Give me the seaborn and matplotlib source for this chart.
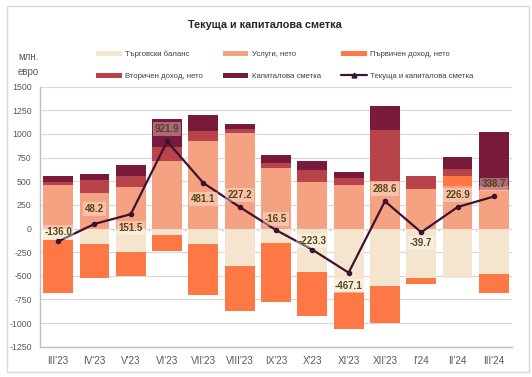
import numpy as np
import pandas as pd
import matplotlib
matplotlib.use("Agg")
import matplotlib.pyplot as plt
from matplotlib.patches import Rectangle, Patch
from matplotlib.lines import Line2D
import seaborn as sns

# ---------------- data ----------------
categories = ["III'23", "IV'23", "V'23", "VI'23", "VII'23", "VIII'23", "IX'23",
              "X'23", "XI'23", "XII'23", "I'24", "II'24", "III'24"]
trade = [-126, -161, -253, -65, -161, -398, -151, -462, -673, -606, -520, -521, -485]
services = [457, 379, 439, 711, 930, 1015, 640, 492, 457, 502, 421, 446, 410]
primary = [-558, -360, -254, -178, -544, -473, -628, -462, -385, -389, -63, 113, -197]
secondary = [35, 131, 116, 148, 99, 35, 50, 123, 77, 540, 134, 70, 40]
capital = [63, 67, 113, 304, 169, 53, 84, 96, 64, 251, -8, 124, 571]
total = [-136.0, 48.2, 151.5, 921.9, 481.1, 227.2, -16.5, -223.3, -467.1, 288.6, -39.7, 226.9, 338.7]

series_names = ["Търговски баланс", "Услуги, нето", "Първичен доход, нето",
                "Вторичен доход, нето", "Капиталова сметка"]
line_name = "Текуща и капиталова сметка"
yticks = [1500, 1250, 1000, 750, 500, 250, 0, -250, -500, -750, -1000, -1250]

# ---------------- style ----------------
colors = ["#f5e5cf", "#f4a282", "#fd7845", "#b8434a", "#7a1a3b"]
line_color = "#3e1230"
label_offsets = [9, 15, -14, 12, -16, 12, 11, 9, -13, 12, -11, 12, 12]  # pixels, + = up

sns.set_theme(style="white")
plt.rcParams["font.family"] = ["Liberation Sans", "DejaVu Sans"]

fig = plt.figure(figsize=(5.32, 3.77), dpi=100)
ax = fig.add_axes([40 / 532, 1 - 346.7 / 377, 472 / 532, 260 / 377])

# ---------------- stacked bars ----------------
comps = np.array([trade, services, primary, secondary, capital], dtype=float)
pos_cum = np.cumsum(np.clip(comps, 0, None), axis=0)
neg_cum = np.cumsum(np.clip(comps, None, 0), axis=0)

for k in range(len(comps) - 1, -1, -1):
    for cum in (pos_cum, neg_cum):
        df = pd.DataFrame({"cat": categories, "val": cum[k]})
        sns.barplot(data=df, x="cat", y="val", order=categories, color=colors[k],
                    saturation=1, width=0.82, errorbar=None, linewidth=0,
                    ax=ax, zorder=2)

# ---------------- line ----------------
xpos = np.arange(len(categories))
dfl = pd.DataFrame({"x": xpos, "y": total})
sns.lineplot(data=dfl, x="x", y="y", sort=False, color=line_color, linewidth=1.6,
             marker="o", markersize=4, markeredgewidth=0, ax=ax, zorder=4)

for xi, v, off in zip(xpos, total, label_offsets):
    ax.annotate(f"{v:.1f}", (xi, v), xytext=(0, off), textcoords="offset pixels",
                ha="center", va="center", fontsize=7, fontweight="bold",
                color="#574611", zorder=5,
                bbox=dict(boxstyle="square,pad=0.2", facecolor="white",
                          alpha=0.35, edgecolor="none"))

# ---------------- axes ----------------
ax.set_xlim(-0.5, len(categories) - 0.5)
ax.set_ylim(-1250, 1500)
ax.set_yticks(yticks)
ax.set_yticklabels([str(t) for t in yticks])
ax.set_xlabel("")
ax.set_ylabel("")
ax.grid(axis="y", color="#d9d9d9", linewidth=0.9, zorder=0)
ax.set_axisbelow(True)
for s in ["top", "right"]:
    ax.spines[s].set_visible(False)
for s in ["left", "bottom"]:
    ax.spines[s].set_color("#bfbfbf")
    ax.spines[s].set_linewidth(1.0)
ax.tick_params(axis="y", length=0, pad=6, labelsize=6.3, labelcolor="#595959")
ax.tick_params(axis="x", length=0, pad=7, labelsize=7.2, labelcolor="#595959")

# small category separator ticks on the zero line
for b in np.arange(-0.5, len(categories), 1.0):
    ax.plot([b, b], [0, -30], color="#d0d0d0", linewidth=0.7, zorder=1)

# ---------------- titles / labels ----------------
fig.text(265 / 532, 1 - 25 / 377, "Текуща и капиталова сметка", ha="center",
         va="center", fontsize=7.8, fontweight="bold", color="#262626")
fig.text(18 / 532, 1 - 57 / 377, "млн.", ha="left", va="center", fontsize=7,
         color="#595959")
fig.text(18 / 532, 1 - 72 / 377, "евро", ha="left", va="center", fontsize=7,
         color="#595959")

# ---------------- legend ----------------
patches = [Patch(facecolor=c, edgecolor="none") for c in colors]
lh = Line2D([], [], color=line_color, linewidth=1.6, marker="^", markersize=3.5)
handles = [patches[0], patches[3], patches[1], patches[4], patches[2], lh]
labels = [series_names[0], series_names[3], series_names[1], series_names[4],
          series_names[2], line_name]
fig.legend(handles, labels, ncol=3, loc="upper left",
           bbox_to_anchor=(92 / 532, 1 - 47 / 377), frameon=False, borderpad=0,
           fontsize=5.6, handlelength=3.3, handleheight=0.7, handletextpad=0.4,
           columnspacing=2.6, labelspacing=1.85, labelcolor="#404040")

# ---------------- outer border ----------------
fig.patches.append(Rectangle((7 / 532, 1 - 372 / 377), 522 / 532, 366 / 377,
                             transform=fig.transFigure, fill=False,
                             edgecolor="#d9d9d9", linewidth=1.0))

fig.savefig("out.png", dpi=100)
